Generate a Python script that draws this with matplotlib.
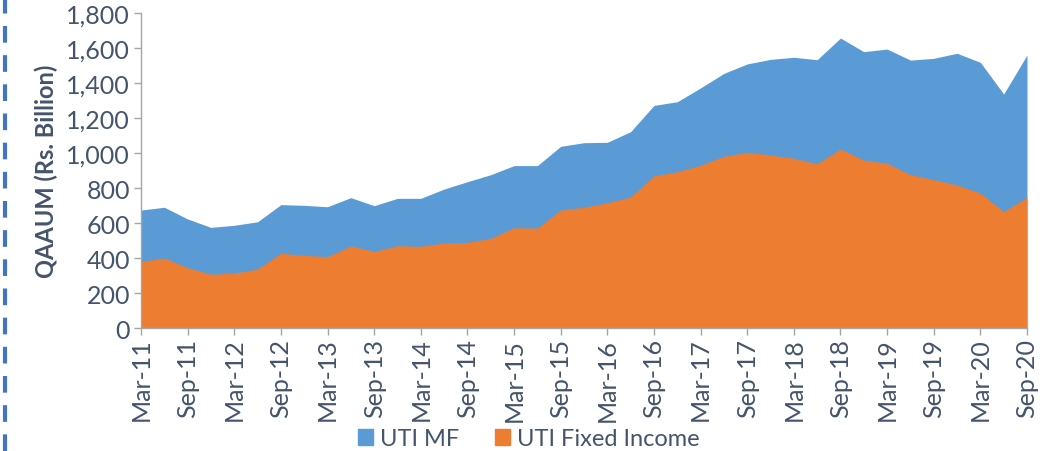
import numpy as np
import matplotlib.pyplot as plt
from matplotlib.lines import Line2D
from matplotlib.patches import Patch

# quarterly data, Mar-11 .. Sep-20
quarters = [f"{m}-{y:02d}" for y in range(11, 21) for m in ("Mar", "Jun", "Sep", "Dec")][:39]
uti_mf = [674, 690, 623, 575, 587, 607, 705, 701, 693, 745,
          699, 741, 741, 794, 836, 876, 928, 928, 1038, 1059,
          1061, 1122, 1272, 1293, 1372, 1455, 1509, 1535, 1547, 1533,
          1657, 1579, 1594, 1531, 1541, 1570, 1518, 1337, 1560]
uti_fixed_income = [381, 400, 345, 307, 314, 337, 427, 415, 408, 469,
                    438, 470, 467, 486, 490, 512, 573, 571, 674, 690,
                    716, 749, 869, 893, 930, 981, 1004, 989, 970, 939,
                    1023, 960, 941, 876, 848, 817, 771, 665, 747]
y_ticks = [0, 200, 400, 600, 800, 1000, 1200, 1400, 1600, 1800]

blue = "#5B9BD5"
orange = "#ED7D31"
text_col = "#44546A"
axis_col = "#A6A6A6"

plt.rcParams["font.family"] = ["Lato", "DejaVu Sans"]

fig = plt.figure(figsize=(10.53, 4.52), dpi=100)
ax = fig.add_axes([0.1339, 0.2721, 0.8414, 0.6969])

x = np.arange(len(quarters))
ax.fill_between(x, 0, uti_mf, color=blue, lw=0)
ax.fill_between(x, 0, uti_fixed_income, color=orange, lw=0)

ax.set_xlim(0, len(quarters) - 1)
ax.set_ylim(0, 1800)
ax.set_yticks(y_ticks)
ax.set_yticklabels([f"{v:,}" for v in y_ticks])
ax.set_xticks(x[::2])
ax.set_xticklabels(quarters[::2], rotation=90)

for side in ("top", "right"):
    ax.spines[side].set_visible(False)
for side in ("left", "bottom"):
    ax.spines[side].set_color(axis_col)
    ax.spines[side].set_linewidth(1)
ax.tick_params(axis="both", colors=axis_col, labelcolor=text_col, labelsize=18, length=5, width=1)
ax.tick_params(axis="x", pad=2)
ax.tick_params(axis="y", pad=3)

ax.set_ylabel("QAAUM (Rs. Billion)", fontsize=17, fontweight="bold", color=text_col, labelpad=6)

handles = [Patch(color=blue, label="UTI MF"), Patch(color=orange, label="UTI Fixed Income")]
fig.legend(handles=handles, loc="center", bbox_to_anchor=(0.502, 0.027), ncol=2, frameon=False,
           fontsize=17, labelcolor=text_col, handlelength=0.65, handleheight=0.65,
           handletextpad=0.3, columnspacing=1.5)

# dashed slide border at left edge
fig.add_artist(Line2D([0.005, 0.005], [0.0, 1.0], color="#4472C4", lw=3,
                      linestyle=(0, (4, 3))))

fig.savefig("out.png", dpi=100)
